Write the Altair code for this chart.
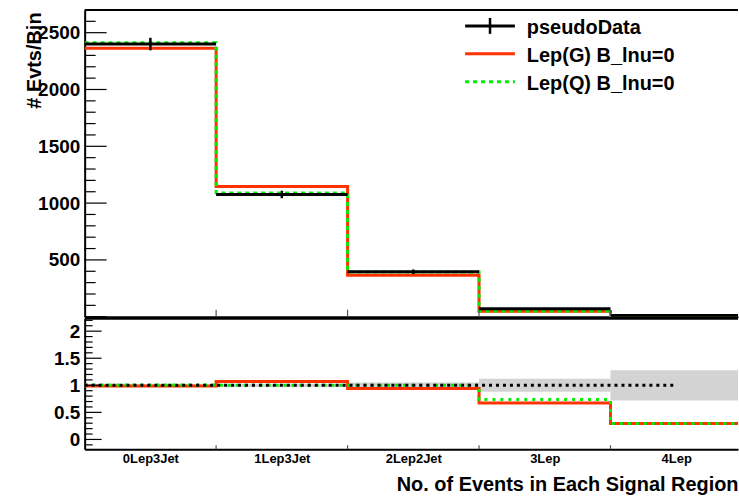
import altair as alt
import pandas as pd

# ---------------- data ----------------
regions = ["0Lep3Jet", "1Lep3Jet", "2Lep2Jet", "3Lep", "4Lep"]
data_vals = [2400, 1076, 396, 70, 11]
data_errs = [55, 33, 20, 8, 3.3]
lepG_vals = [2362, 1146, 365, 47, 3.2]
lepQ_vals = [2412, 1090, 394, 51, 3.2]
ratio_G = [0.985, 1.07, 0.94, 0.674, 0.295]
ratio_Q = [1.005, 1.0, 1.0, 0.737, 0.295]
ratio_band = [0.02, 0.03, 0.05, 0.12, 0.28]
ratio_line_end = 4.5
series_names = ["pseudoData", "Lep(G) B_lnu=0", "Lep(Q) B_lnu=0"]
top_tick_labels = [500, 1000, 1500, 2000, 2500]
top_major = [0, 500, 1000, 1500, 2000, 2500]
top_minor = [v for v in range(100, 2700, 100) if v % 500 != 0]
ratio_tick_labels = [0, 0.5, 1, 1.5, 2]
ratio_minor = [-0.1, 0.1, 0.2, 0.3, 0.4, 0.6, 0.7, 0.8, 0.9, 1.1, 1.2, 1.3, 1.4,
               1.6, 1.7, 1.8, 1.9, 2.1, 2.2]
bin_edges = [0, 1, 2, 3, 4, 5]

# ---------------- style ----------------
FONT = "Liberation Sans"
RED = "#ff3300"
GREEN = "#00ee00"
GRAY = "#d3d3d3"
W = 656
XMAX = 4.97
H1 = 308
H2 = 131

xs = alt.Scale(domain=[0, XMAX], nice=False, zero=False)
ys1 = alt.Scale(domain=[0, 2700], nice=False, zero=False)
ys2 = alt.Scale(domain=[-0.18, 2.23], nice=False, zero=False)

ax_x1 = alt.Axis(labels=False, ticks=False, tickSize=0, title=None, grid=False,
                 domain=True, domainColor="black", domainWidth=2)
label_expr = "[" + ",".join("'%s'" % r for r in regions) + "][floor(datum.value)]"
ax_x2 = alt.Axis(values=[i + 0.5 for i in range(len(regions))], labelExpr=label_expr,
                 labelFont=FONT, labelFontWeight="bold", labelFontSize=13, labelColor="black",
                 labelPadding=3, labelOverlap=False, labelFlush=False,
                 ticks=False, tickSize=0, grid=False,
                 domain=True, domainColor="black", domainWidth=2,
                 title="No. of Events in Each Signal Region", titleFont=FONT,
                 titleFontWeight="bold", titleFontSize=20, titleColor="black",
                 titleX=W, titleY=41, titleAlign="right", titleBaseline="alphabetic",
                 titleAnchor="end")
ax_y1 = alt.Axis(values=top_tick_labels, format="d", labelFont=FONT, labelFontWeight="bold",
                 labelFontSize=19, labelColor="black", labelPadding=5,
                 ticks=False, tickSize=0, grid=False,
                 domain=True, domainColor="black", domainWidth=2,
                 title="# Evts/Bin", titleFont=FONT, titleFontWeight="bold",
                 titleFontSize=20, titleColor="black", titleAngle=270,
                 titleX=-44, titleY=2, titleAlign="right", titleBaseline="alphabetic",
                 titleAnchor="end")
ax_y2 = alt.Axis(values=ratio_tick_labels, format="~g", labelFont=FONT,
                 labelFontWeight="bold", labelFontSize=19, labelColor="black",
                 labelPadding=5, ticks=False, tickSize=0, grid=False,
                 domain=True, domainColor="black", domainWidth=2, title=None)


def X1(f):
    return alt.X(f, scale=xs, axis=ax_x1)


def X2(f):
    return alt.X(f, scale=xs, axis=ax_x2)


def Y1(f):
    return alt.Y(f, scale=ys1, axis=ax_y1)


def Y2(f):
    return alt.Y(f, scale=ys2, axis=ax_y2)


def step_df(vals):
    rows = []
    for i, v in enumerate(vals):
        rows.append({"x": bin_edges[i], "y": v, "o": 2 * i})
        rows.append({"x": bin_edges[i + 1], "y": v, "o": 2 * i + 1})
    return pd.DataFrame(rows)


one = pd.DataFrame({"a": [0]})

# ---------------- top panel ----------------
red_top = alt.Chart(step_df(lepG_vals)).mark_line(
    color=RED, strokeWidth=3, clip=True, strokeCap="butt", strokeJoin="miter"
).encode(x=X1("x:Q"), y=Y1("y:Q"), order="o:Q")
green_top = alt.Chart(step_df(lepQ_vals)).mark_line(
    color=GREEN, strokeWidth=3, strokeDash=[4, 4], clip=True, strokeCap="butt"
).encode(x=X1("x:Q"), y=Y1("y:Q"), order="o:Q")

dd = pd.DataFrame({
    "x0": bin_edges[:-1], "x1": bin_edges[1:],
    "c": [i + 0.5 for i in range(len(data_vals))],
    "v": data_vals,
    "lo": [v - e for v, e in zip(data_vals, data_errs)],
    "hi": [v + e for v, e in zip(data_vals, data_errs)],
})
data_h = alt.Chart(dd).mark_rule(color="black", strokeWidth=3, clip=True).encode(
    x=X1("x0:Q"), x2="x1:Q", y=Y1("v:Q"))
data_v = alt.Chart(dd).mark_rule(color="black", strokeWidth=2.5).encode(
    x=X1("c:Q"), y=Y1("lo:Q"), y2="hi:Q")

maj1 = alt.Chart(pd.DataFrame({"v": top_major})).mark_rule(color="black", strokeWidth=1.2).encode(
    x=alt.value(0), x2=alt.value(22), y=Y1("v:Q"))
min1 = alt.Chart(pd.DataFrame({"v": top_minor})).mark_rule(color="black", strokeWidth=1.2).encode(
    x=alt.value(0), x2=alt.value(11), y=Y1("v:Q"))
edge1 = alt.Chart(pd.DataFrame({"e": bin_edges[1:5]})).mark_rule(color="#555555", strokeWidth=1.2).encode(
    x=X1("e:Q"), y=alt.value(H1), y2=alt.value(H1 - 7))
frame_top = alt.Chart(one).mark_rule(color="black", strokeWidth=2).encode(
    x=alt.value(0), x2=alt.value(W), y=alt.value(0))

# legend (decoration)
LX0, LX1, LT = 382, 432, 444
legend_layers = []
for name, ly, col, dash in [(series_names[0], 16, "black", None),
                            (series_names[1], 44, RED, None),
                            (series_names[2], 72, GREEN, [4, 4])]:
    kw = dict(color=col, strokeWidth=3)
    if dash:
        kw["strokeDash"] = dash
    legend_layers.append(alt.Chart(one).mark_rule(**kw).encode(
        x=alt.value(LX0), x2=alt.value(LX1), y=alt.value(ly)))
    legend_layers.append(alt.Chart(one).mark_text(
        font=FONT, fontWeight="bold", fontSize=20, color="black", align="left",
        baseline="alphabetic").encode(x=alt.value(LT), y=alt.value(ly + 8), text=alt.value(name)))
legend_layers.append(alt.Chart(one).mark_rule(color="black", strokeWidth=2.5).encode(
    x=alt.value((LX0 + LX1) / 2), y=alt.value(8), y2=alt.value(24)))

top = alt.layer(red_top, green_top, data_h, data_v, maj1, min1, edge1, frame_top,
                *legend_layers).properties(width=W, height=H1)

# ---------------- ratio panel ----------------
bd = pd.DataFrame({
    "x0": bin_edges[:-1], "x1": bin_edges[1:],
    "lo": [1 - b for b in ratio_band], "hi": [1 + b for b in ratio_band],
})
band = alt.Chart(bd).mark_rect(color=GRAY, clip=True).encode(
    x=X2("x0:Q"), x2="x1:Q", y=Y2("lo:Q"), y2="hi:Q")
red_r = alt.Chart(step_df(ratio_G)).mark_line(
    color=RED, strokeWidth=3, clip=True, strokeCap="butt", strokeJoin="miter"
).encode(x=X2("x:Q"), y=Y2("y:Q"), order="o:Q")
green_r = alt.Chart(step_df(ratio_Q)).mark_line(
    color=GREEN, strokeWidth=3, strokeDash=[3, 5], clip=True, strokeCap="butt"
).encode(x=X2("x:Q"), y=Y2("y:Q"), order="o:Q")
one_line = alt.Chart(pd.DataFrame({"x0": [0], "x1": [ratio_line_end], "y": [1]})).mark_rule(
    color="black", strokeWidth=3, strokeDash=[3, 4]).encode(x=X2("x0:Q"), x2="x1:Q", y=Y2("y:Q"))

maj2 = alt.Chart(pd.DataFrame({"v": ratio_tick_labels})).mark_rule(color="black", strokeWidth=1.2).encode(
    x=alt.value(0), x2=alt.value(17), y=Y2("v:Q"))
min2 = alt.Chart(pd.DataFrame({"v": ratio_minor})).mark_rule(color="black", strokeWidth=1.2).encode(
    x=alt.value(0), x2=alt.value(8), y=Y2("v:Q"))
edge2 = alt.Chart(pd.DataFrame({"e": bin_edges[1:5]})).mark_rule(color="#555555", strokeWidth=1.2).encode(
    x=X2("e:Q"), y=alt.value(H2), y2=alt.value(H2 - 4))
frame_r = alt.Chart(one).mark_rule(color="black", strokeWidth=2).encode(
    x=alt.value(0), x2=alt.value(W), y=alt.value(0))

bottom = alt.layer(band, red_r, green_r, one_line, maj2, min2, edge2, frame_r).properties(
    width=W, height=H2)

chart = alt.vconcat(top, bottom, spacing=0).properties(
    padding={"left": 25, "top": 8, "right": 0, "bottom": 0},
    background="white",
).configure_view(strokeWidth=0)

chart.save("out.html", embed_options={"renderer": "svg", "actions": False})
